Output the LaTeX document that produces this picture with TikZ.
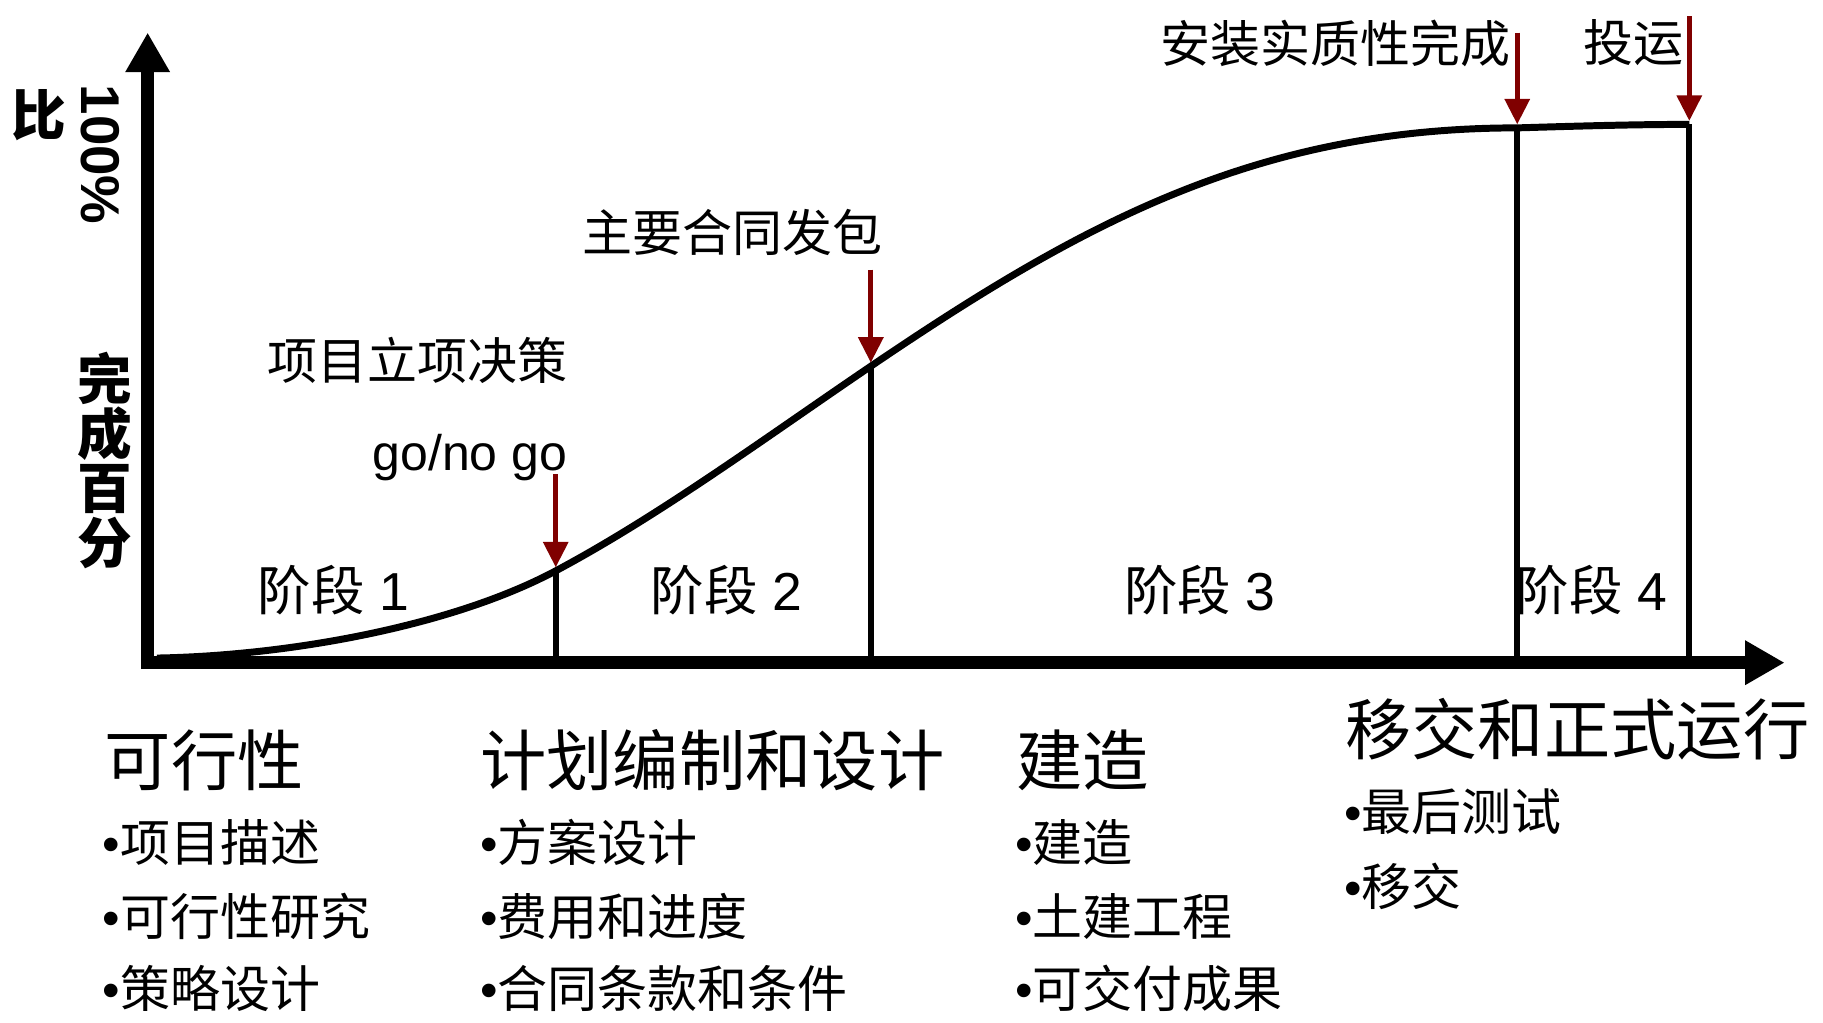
\documentclass[tikz,border=0pt]{standalone}
\usepackage{fontspec}
\setmainfont{Liberation Sans}
\newfontfamily\cjk{Noto Sans CJK SC}
\usetikzlibrary{arrows.meta}
\definecolor{mred}{RGB}{128,0,0}
\begin{document}
\begin{tikzpicture}[x=1pt,y=-1pt,
  axis/.style={line width=11pt,-{Triangle[length=34pt,width=36pt]}},
  curveline/.style={line width=6pt},
  marker/.style={line width=5pt},
  redarrow/.style={mred,line width=4.5pt,-{Triangle[length=22pt,width=21pt]}},
  lbl/.style={inner sep=0pt,font=\fontsize{43}{50}\selectfont},
  stage/.style={inner sep=0pt,font=\fontsize{46}{54}\selectfont},
  head/.style={inner sep=0pt,anchor=west,font=\fontsize{57}{66}\selectfont},
  item/.style={inner sep=0pt,anchor=west,font=\fontsize{43}{50}\selectfont},
  ylab/.style={inner sep=0pt,font=\bfseries\fontsize{47}{47}\selectfont},
  ylabcjk/.style={inner sep=0pt,font=\cjk\bfseries\fontsize{47}{47}\selectfont}
]
\useasboundingbox (0,0) rectangle (1568,879.9);
% axes
\coordinate (origin) at (127,570);
\coordinate (ytip) at (127,28);
\coordinate (xtip) at (1535,570);
\draw[axis] (127,575.5) -- (ytip);
\draw[axis] (121.5,570) -- (xtip);
% milestones on curve
\coordinate (c0) at (135,566);
\coordinate (m1) at (478,491);
\coordinate (m2) at (749,315);
\coordinate (m3) at (1305,110);
\coordinate (m4) at (1453,107);
% curve
\draw[curveline] (c0) .. controls (250,564) and (390,538) .. (m1)
  .. controls (568,443) and (659,376) .. (m2)
  .. controls (929,193) and (1080,110) .. (m3)
  .. controls (1355,108.5) and (1405,107) .. (m4);
% vertical lines
\foreach \m in {m1,m2,m3,m4} \draw[marker] (\m) -- (\m |- origin);
% red arrows
\coordinate (a1) at (478,408);
\coordinate (a2) at (749,232);
\coordinate (a3) at (1305,28);
\coordinate (a4) at (1453,14);
\coordinate (t1) at (478,488);
\coordinate (t2) at (749,312);
\coordinate (t3) at (1305,107);
\coordinate (t4) at (1453,104);
\draw[redarrow] (a1) -- (t1);
\draw[redarrow] (a2) -- (t2);
\draw[redarrow] (a3) -- (t3);
\draw[redarrow] (a4) -- (t4);
% milestone labels
\node[lbl] (l1) at (359.5,310) {\cjk 项目立项决策};
\node[lbl,anchor=base east] (l1b) at (488,405) {go/no go};
\node[lbl] (l2) at (630,200) {\cjk 主要合同发包};
\node[lbl] (l3) at (1149,37) {\cjk 安装实质性完成};
\node[lbl] (l4) at (1405,37) {\cjk 投运};
% stage labels
\node[stage] (s1) at (287,508) {{\cjk 阶段} 1};
\node[stage] (s2) at (625,508) {{\cjk 阶段} 2};
\node[stage] (s3) at (1032,508) {{\cjk 阶段} 3};
\node[stage] (s4) at (1369,508) {{\cjk 阶段} 4};
% y label
\node[ylabcjk] (yb) at (33.5,99) {比};
\node[ylab,rotate=-90] (yp) at (86,133) {100\%};
\node[ylabcjk,align=center] (yc) at (90,396) {完\\成\\百\\分};
% bottom texts
\node[head] (h1) at (90,654) {\cjk 可行性};
\node[item] (i11) at (88,725) {•{\cjk 项目描述}};
\node[item] (i12) at (88,788) {•{\cjk 可行性研究}};
\node[item] (i13) at (88,850) {•{\cjk 策略设计}};
\node[head] (h2) at (413,654) {\cjk 计划编制和设计};
\node[item] (i21) at (413,725) {•{\cjk 方案设计}};
\node[item] (i22) at (413,788) {•{\cjk 费用和进度}};
\node[item] (i23) at (413,850) {•{\cjk 合同条款和条件}};
\node[head] (h3) at (874,654) {\cjk 建造};
\node[item] (i31) at (873,725) {•{\cjk 建造}};
\node[item] (i32) at (873,788) {•{\cjk 土建工程}};
\node[item] (i33) at (873,850) {•{\cjk 可交付成果}};
\node[head] (h4) at (1157,627) {\cjk 移交和正式运行};
\node[item] (i41) at (1156,698) {•{\cjk 最后测试}};
\node[item] (i42) at (1156,762) {•{\cjk 移交}};
\end{tikzpicture}
\end{document}
